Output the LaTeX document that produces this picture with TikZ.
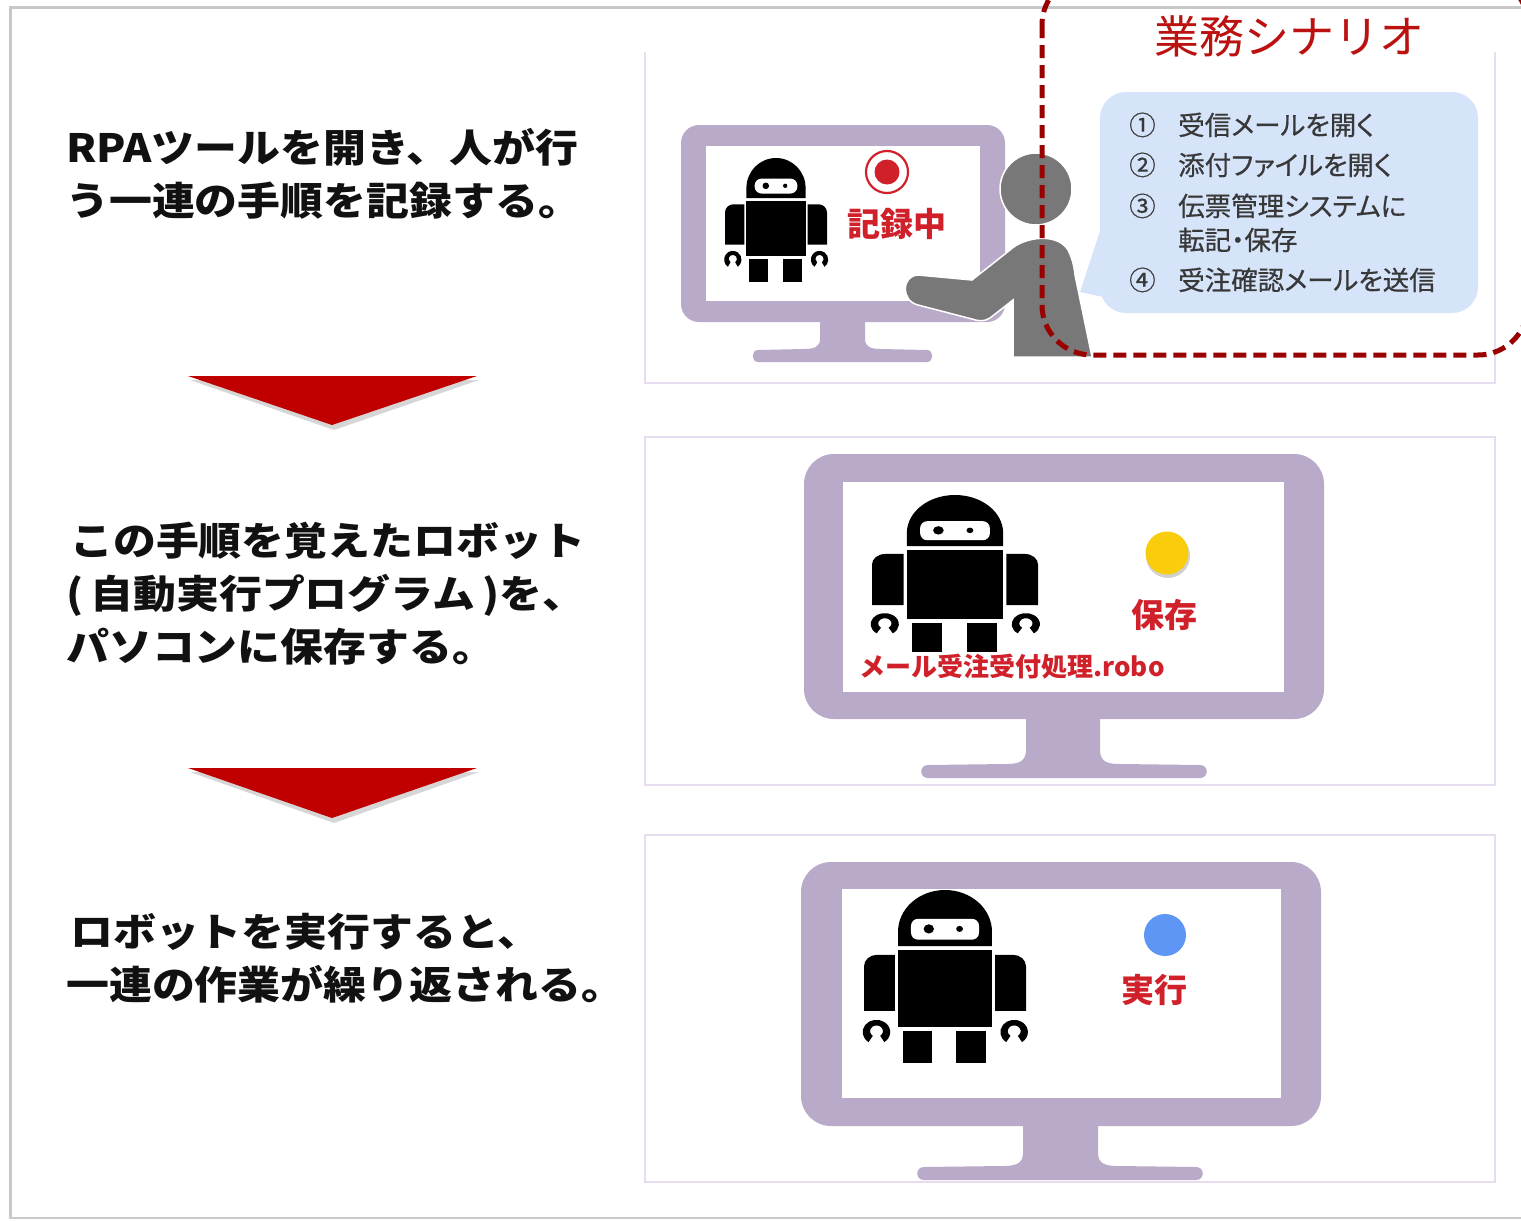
\documentclass[tikz,border=0pt]{standalone}
\usepackage{fontspec}
\newfontfamily\jp{Noto Sans CJK JP}
\newfontfamily\jpnarrow{Noto Sans CJK JP}[RawFeature={+palt}, FakeBold=0.6]
\definecolor{monframe}{HTML}{B8AAC8}
\definecolor{panelline}{HTML}{E8DCF0}
\definecolor{arrowred}{HTML}{C00000}
\definecolor{labelred}{HTML}{D0202A}
\definecolor{titlered}{HTML}{BB1111}
\definecolor{dashred}{HTML}{990000}
\definecolor{bubblefill}{HTML}{D6E4FA}
\definecolor{persongray}{HTML}{787878}
\definecolor{dotyellow}{HTML}{F9CC0C}
\definecolor{dotblue}{HTML}{5E96F6}
\definecolor{stepink}{HTML}{111111}
\definecolor{bubbleink}{HTML}{383838}
\definecolor{framegray}{HTML}{C8C8C8}
\newcommand\wide[1]{\scalebox{1.1}[1]{#1}}
% robot icon: #1,#2 = centre x / top y, #3,#4 = x and y scale (unit icon 100 x 120)
\newcommand\robotfig[4]{%
\begin{scope}[shift={(#1,#2)}, xscale=#3, yscale=#4]
  \fill[black] (-29,39) -- (-29,29) arc[start angle=180, end angle=360, radius=29] -- (29,39) -- cycle;
  \fill[white, rounded corners=7] (-21,20) rectangle (21,34.5);
  \fill[black] (-10,27) circle (3.2);
  \fill[black] (9,27) circle (2.1);
  \fill[black] (-29,42) rectangle (29,95);
  \fill[black] (-31,84) -- (-50,84) -- (-50,53) arc[start angle=180, end angle=270, radius=8] -- (-31,45) -- cycle;
  \fill[black] (31,84) -- (50,84) -- (50,53) arc[start angle=0, end angle=-90, radius=8] -- (31,45) -- cycle;
  \fill[black] (-47.2,105.6) arc[start angle=125, end angle=415, radius=8.5] -- (-40,101.3) arc[start angle=55, end angle=-235, radius=4] -- cycle;
  \fill[black] (37.8,105.6) arc[start angle=125, end angle=415, radius=8.5] -- (45,101.3) arc[start angle=55, end angle=-235, radius=4] -- cycle;
  \fill[black] (-26,98) rectangle (-8,120);
  \fill[black] (7,98) rectangle (25,120);
\end{scope}}
\tikzset{
  steptext/.style={anchor=west, inner sep=0, text=stepink, text height=34pt, text depth=5pt,
    font=\jp\bfseries\fontsize{39}{39}\selectfont},
  bubtext/.style={anchor=west, inner sep=0, text=bubbleink, text height=23pt, text depth=3pt,
    font=\jpnarrow\fontsize{26.5}{26.5}\selectfont},
  redlabel/.style={inner sep=0, text=labelred, font=\jp\bfseries\fontsize{33}{33}\selectfont},
  panel/.style={draw=panelline, line width=2},
  downarrow/.style={fill=arrowred},
  arrowshadow/.style={fill=black, opacity=0.16},
}
\begin{document}
\begin{tikzpicture}[x=1pt, y=-1pt]
\useasboundingbox (0,0) rectangle (1521,1221);
\fill[white] (0,0) rectangle (1521,1221);

% outer frame
\draw[framegray, line width=2.5] (1521,7.5) -- (10.5,7.5) -- (10.5,1218) -- (1521,1218);

% panels
\draw[panel] (645,52) -- (645,383) -- (1495,383) -- (1495,52);
\draw[panel] (645,437) rectangle (1495,785);
\draw[panel] (645,835) rectangle (1495,1182);

% monitor 1
\fill[monframe, rounded corners=18] (681,125) rectangle (1005,322);
\fill[white] (706,146) rectangle (980,301);
\fill[monframe] (820,318) -- (820,339) .. controls (820,347) and (814,349) .. (804,349)
  -- (758,350) .. controls (751,350) and (751,362) .. (758,362) -- (927,362)
  .. controls (934,362) and (934,350) .. (927,350) -- (881,349)
  .. controls (871,349) and (865,347) .. (865,339) -- (865,318) -- cycle;
\robotfig{776}{158}{1.02}{1.03}
\draw[labelred, line width=2.2] (887,172) circle (21);
\fill[labelred] (887,172) circle (12.5);
\node[redlabel] (rec) at (897,224) {記録中};

% monitor 2
\fill[monframe, rounded corners=30] (804,454) rectangle (1324,719);
\fill[white] (843,482) rectangle (1284,692);
\fill[monframe] (1026,715) -- (1026,750) .. controls (1026,762) and (1018,764) .. (1006,764)
  -- (928,765) .. controls (919,765) and (919,778) .. (928,778) -- (1200,778)
  .. controls (1209,778) and (1209,765) .. (1200,765) -- (1120,764)
  .. controls (1108,764) and (1100,762) .. (1100,750) -- (1100,715) -- cycle;
\robotfig{955}{495}{1.66}{1.31}
\fill[black, opacity=0.18] (1168,556) circle (22);
\fill[dotyellow] (1167,553) circle (21.5);
\node[redlabel] (save) at (1164,615) {保存};
\node[redlabel, font=\jp\bfseries\fontsize{26}{26}\selectfont] (file) at (1012,667) {メール受注受付処理.robo};

% monitor 3
\fill[monframe, rounded corners=30] (801,862) rectangle (1321,1126);
\fill[white] (842,889) rectangle (1281,1098);
\fill[monframe] (1023,1122) -- (1023,1153) .. controls (1023,1164) and (1015,1166) .. (1003,1166)
  -- (924,1167) .. controls (915,1167) and (915,1180) .. (924,1180) -- (1196,1180)
  .. controls (1205,1180) and (1205,1167) .. (1196,1167) -- (1118,1166)
  .. controls (1106,1166) and (1098,1164) .. (1098,1153) -- (1098,1122) -- cycle;
\robotfig{945}{890}{1.62}{1.44}
\fill[dotblue] (1165,935) circle (21);
\node[redlabel] (run) at (1154,990) {実行};

% person at the first monitor
\fill[persongray, draw=white, line width=1.5] (1013,357) -- (1013,300)
  -- (990,318) .. controls (984,322) and (978,321) .. (972,319) -- (918,305)
  .. controls (901,301) and (901,276) .. (918,275) -- (972,280) -- (1010,250)
  .. controls (1025,236) and (1058,233) .. (1068,250)
  .. controls (1072,258) and (1074,265) .. (1075,275) -- (1092,357) -- cycle;
\fill[persongray, draw=white, line width=1.5] (1036,189) circle (36);

% speech bubble with the scenario steps
\fill[bubblefill] (1102,225) -- (1080,292) -- (1108,298) -- cycle;
\fill[bubblefill, rounded corners=26] (1100,92) rectangle (1478,313);
\node[bubtext] (n1) at (1129,125) {①};
\node[bubtext] (t1) at (1178,125) {受信メールを開く};
\node[bubtext] (n2) at (1129,165) {②};
\node[bubtext] (t2) at (1178,165) {添付ファイルを開く};
\node[bubtext] (n3) at (1129,206) {③};
\node[bubtext] (t3) at (1178,206) {伝票管理システムに};
\node[bubtext] (t3b) at (1178,240) {転記・保存};
\node[bubtext] (n4) at (1129,280) {④};
\node[bubtext] (t4) at (1178,280) {受注確認メールを送信};

\node[inner sep=0, text=titlered, font=\jp\fontsize{45}{45}\selectfont] (title) at (1289,36) {業務シナリオ};

% dashed scenario outline, running off the top and right edges
\begin{scope}
  \clip (0,0) rectangle (1521,1221);
  \draw[dashred, line width=5, dash pattern=on 13pt off 7pt, rounded corners=50] (1042,-25) rectangle (1528,355);
\end{scope}

% step descriptions
\node[steptext] (s1a) at (66,148) {\wide{RPAツールを開き、人が行}};
\node[steptext] (s1b) at (66,201) {\wide{う一連の手順を記録する。}};
\node[steptext] (s2a) at (70,541) {\wide{この手順を覚えたロボット}};
\node[steptext] (s2b) at (66,594) {\wide{(\,自動実行プログラム\,)を、}};
\node[steptext] (s2c) at (66,647) {\wide{パソコンに保存する。}};
\node[steptext] (s3a) at (70,932) {\wide{ロボットを実行すると、}};
\node[steptext] (s3b) at (66,985) {\wide{一連の作業が繰り返される。}};

% down arrows between the steps
\fill[arrowshadow] (190,380) -- (479,380) -- (334,430) -- cycle;
\fill[downarrow] (188,376) -- (477,376) -- (332,425) -- cycle;
\fill[arrowshadow] (190,772) -- (479,772) -- (334,823) -- cycle;
\fill[downarrow] (188,768) -- (477,768) -- (332,818) -- cycle;
\end{tikzpicture}
\end{document}
